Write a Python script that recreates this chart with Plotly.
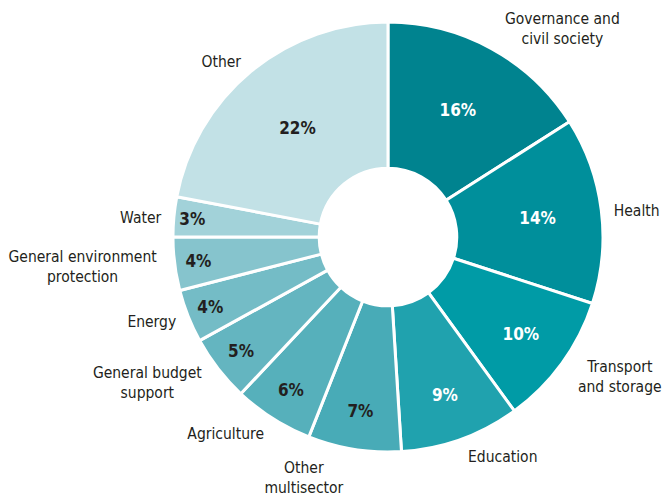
import plotly.graph_objects as go

categories = ["Governance and<br>civil society", "Health", "Transport<br>and storage", "Education",
              "Other<br>multisector", "Agriculture", "General budget<br>support", "Energy",
              "General environment<br>protection", "Water", "Other"]
shares = [16, 14, 10, 9, 7, 6, 5, 4, 4, 3, 22]
colors = ["#00838F", "#008F9B", "#009BA6", "#20A2AE", "#48ABB7", "#56B0BB", "#64B5C0",
          "#74BCC6", "#86C4CD", "#A2D2D9", "#C2E1E6"]
pct_text_colors = ["white"] * 4 + ["#231F20"] * 7

FONT = "DejaVu Sans Condensed, Roboto, sans-serif"
dom = dict(x=[0.2605, 0.9081], y=[0.0905, 0.9557])
label_dom = dict(x=[0.2485, 0.9202], y=[0.0704, 0.9678])

fig = go.Figure()
# outside labels (invisible slices)
fig.add_trace(go.Pie(
    labels=categories, values=shares, sort=False, direction="clockwise", rotation=0,
    hole=0.32, domain=label_dom, textposition="outside", texttemplate="%{label}",
    marker=dict(colors=["rgba(0,0,0,0)"] * len(shares), line=dict(width=0)),
    textfont=dict(family=FONT, size=15.5, color="#231F20"),
    showlegend=False, hoverinfo="skip", automargin=False,
))
# visible donut with percentages
fig.add_trace(go.Pie(
    labels=categories, values=shares, sort=False, direction="clockwise", rotation=0,
    hole=0.32, domain=dom, textposition="inside", insidetextorientation="horizontal",
    texttemplate="<b>%{value}%</b>",
    marker=dict(colors=colors, line=dict(color="white", width=3)),
    textfont=dict(family=FONT, size=17, color=pct_text_colors),
    showlegend=False, automargin=False,
))
fig.update_layout(width=664, height=497, margin=dict(l=0, r=0, t=0, b=0),
                  paper_bgcolor="white", plot_bgcolor="white")
fig.write_html("out.html", config={"displayModeBar": False})

with open("out.html", "r", encoding="utf-8") as f:
    html = f.read()
html = html.replace("<body>", '<body style="margin:0;padding:0;overflow:hidden">', 1)
with open("out.html", "w", encoding="utf-8") as f:
    f.write(html)
